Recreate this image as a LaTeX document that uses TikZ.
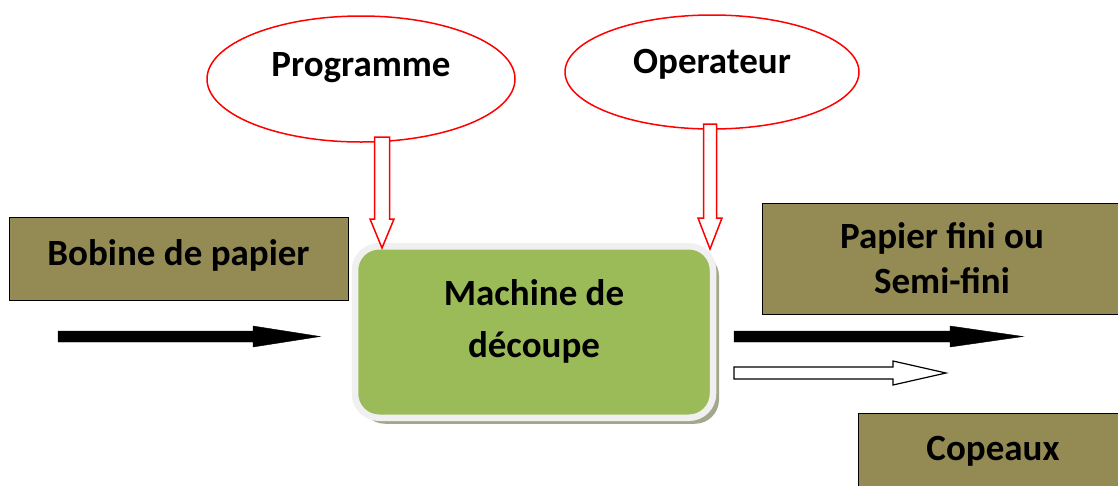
\documentclass[tikz,border=0pt]{standalone}
\usepackage{fontspec}
\setmainfont{Carlito}
\usetikzlibrary{calc,positioning,shapes.geometric,shadows}
\definecolor{boxolive}{HTML}{948A54}
\definecolor{machgreen}{HTML}{9BBB59}
\definecolor{machframe}{HTML}{F0F0F0}
\definecolor{machshadow}{HTML}{A3A78C}

\begin{document}
\begin{tikzpicture}[x=1pt, y=-1pt,
    every node/.style={font=\fontsize{37}{45}\selectfont\bfseries, text=black},
    olivebox/.style={draw=black, line width=1pt, fill=boxolive, inner sep=0pt, align=center},
    source/.style={ellipse, draw=red, line width=1.5pt, fill=white, inner sep=0pt},
    machine/.style={rounded corners=24pt, draw=machframe, line width=6.5pt, fill=machgreen, inner sep=0pt,
        drop shadow={shadow xshift=6pt, shadow yshift=-6pt, fill=machshadow, opacity=1}},
    redarrow/.style={draw=red, line width=1.5pt, fill=white},
    fullarrow/.style={fill=black},
    openarrow/.style={draw=black, line width=1.2pt, fill=white}]
    \newcommand{\BlkArrow}[6][]{%
        \coordinate (baS) at (#2);
        \coordinate (baE) at (#3);
        \coordinate (baH) at ($(baE)!#6!(baS)$);
        \draw[#1] ($(baS)!#4!90:(baE)$) -- ($(baH)!#4!-90:(baS)$) -- ($(baH)!#5!-90:(baS)$)
            -- (baE) -- ($(baH)!#5!90:(baS)$) -- ($(baH)!#4!90:(baS)$) -- ($(baS)!#4!-90:(baE)$) -- cycle;
    }
    \useasboundingbox (0,0) rectangle (1118,485);
    \clip (0,0) rectangle (1118,485);
    % inputs and outputs
    \node[olivebox, minimum width=339pt, minimum height=83pt,
        label={[yshift=3pt]center:Bobine de papier}] (bobine) at (178.5,258.5) {};
    \node[olivebox, minimum width=360pt, minimum height=111pt] (papier) at (942,258.5) {Papier fini ou\\Semi-fini};
    \node[olivebox, minimum width=270pt, minimum height=77pt] (copeaux) at (993,451.5) {Copeaux};
    % controls
    \node[source, minimum width=308pt, minimum height=126pt,
        label={[yshift=11pt]center:Programme}] (prog) at (361,79) {};
    \node[source, minimum width=294pt, minimum height=114pt,
        label={[yshift=8pt]center:Operateur}] (oper) at (712,72) {};
    % the machine
    \node[machine, minimum width=358pt, minimum height=171.5pt,
        label={[yshift=11pt, align=center]center:Machine de\\[7pt]d\'ecoupe}] (mach) at (534,332) {};
    \coordinate (cProgOut) at (382,137);
    \coordinate (cProgIn) at (382,248);
    \coordinate (cOperOut) at (710,124);
    \coordinate (cOperIn) at (710,249);
    \coordinate (cFeedA) at (58,336.5);
    \coordinate (cFeedB) at (320,336.5);
    \coordinate (cProdA) at (734,336.5);
    \coordinate (cProdB) at (1023,336.5);
    \coordinate (cWasteA) at (734,373);
    \coordinate (cWasteB) at (946,373);
    \BlkArrow[redarrow]{cProgOut}{cProgIn}{7.5pt}{12pt}{29pt}
    \BlkArrow[redarrow]{cOperOut}{cOperIn}{6.5pt}{12pt}{31pt}
    \BlkArrow[fullarrow]{cFeedA}{cFeedB}{5.5pt}{10.5pt}{67pt}
    \BlkArrow[fullarrow]{cProdA}{cProdB}{5.5pt}{10.5pt}{73pt}
    \BlkArrow[openarrow]{cWasteA}{cWasteB}{6pt}{12pt}{53pt}
\end{tikzpicture}
\end{document}
